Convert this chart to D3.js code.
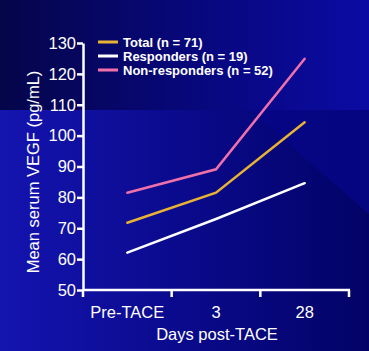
<!DOCTYPE html>
<html>
<head>
<meta charset="utf-8">
<script src="https://cdn.jsdelivr.net/npm/d3@7"></script>
<style>
  body { margin: 0; padding: 0; overflow: hidden; }
  svg { display: block; font-family: "Liberation Sans", Arial, sans-serif; }
</style>
</head>
<body>
<div id="chart"></div>
<script>
var w = 369,
    h = 351;

// data
var categories = ["Pre-TACE", "3", "28"];
var seriesNames = ["Total (n = 71)", "Responders (n = 19)", "Non-responders (n = 52)"];
var totalValues = [71.8, 81.5, 104.3];
var responderValues = [62.1, 73.0, 84.6];
var nonResponderValues = [81.5, 89.1, 124.9];
var yTicks = [50, 60, 70, 80, 90, 100, 110, 120, 130];
var colors = ["#e8b234", "#ffffff", "#f070aa"];

var svg = d3.select("#chart").append("svg")
    .attr("width", w)
    .attr("height", h);

// background (slide template)
var defs = svg.append("defs");
var gTop = defs.append("linearGradient").attr("id", "gTop")
    .attr("x1", 0).attr("x2", 1).attr("y1", 0).attr("y2", 0);
gTop.append("stop").attr("offset", "0%").attr("stop-color", "#05054a");
gTop.append("stop").attr("offset", "45%").attr("stop-color", "#070775");
gTop.append("stop").attr("offset", "100%").attr("stop-color", "#0b0ba4");
var gBot = defs.append("linearGradient").attr("id", "gBot")
    .attr("x1", 0).attr("x2", 1).attr("y1", 0).attr("y2", 0);
gBot.append("stop").attr("offset", "0%").attr("stop-color", "#1414b0");
gBot.append("stop").attr("offset", "50%").attr("stop-color", "#0a0a8c");
gBot.append("stop").attr("offset", "100%").attr("stop-color", "#020266");

svg.append("rect").attr("width", w).attr("height", h).attr("fill", "url(#gBot)");
svg.append("rect").attr("width", w).attr("height", 110).attr("fill", "url(#gTop)");
svg.append("polygon")
    .attr("points", "250,110 369,110 369,214")
    .attr("fill", "#07078a")
    .attr("fill-opacity", 0.75);

// scales
var x = d3.scaleBand()
    .domain(categories)
    .range([83, 349]);

var y = d3.scaleLinear()
    .domain([50, 130])
    .range([290, 43]);

// y axis
var yAxis = d3.axisLeft(y)
    .tickValues(yTicks)
    .tickSize(6)
    .tickPadding(1)
    .tickSizeOuter(0);

var gy = svg.append("g")
    .attr("transform", "translate(83,0)")
    .call(yAxis);
gy.select(".domain").attr("stroke", "#fff").attr("stroke-width", 2.5);
gy.selectAll(".tick line").attr("stroke", "#fff").attr("stroke-width", 2.5);
gy.selectAll(".tick text")
    .attr("fill", "#fff")
    .style("font-size", "16.5px")
    .style("font-family", "Liberation Sans, Arial, sans-serif");

// x axis with ticks at band boundaries
svg.append("line")
    .attr("x1", 83).attr("x2", 350)
    .attr("y1", y(50)).attr("y2", y(50))
    .attr("stroke", "#fff").attr("stroke-width", 2.5);
var bounds = categories.map(function(c) { return x(c); }).concat([x.range()[1]]);
svg.selectAll(".xTick")
    .data(bounds)
    .enter().append("line")
    .attr("class", "xTick")
    .attr("x1", function(d) { return d; })
    .attr("x2", function(d) { return d; })
    .attr("y1", y(50))
    .attr("y2", y(50) + 7)
    .attr("stroke", "#fff").attr("stroke-width", 2.5);
svg.selectAll(".xLabel")
    .data(categories)
    .enter().append("text")
    .attr("class", "xLabel")
    .attr("x", function(d) { return x(d) + x.bandwidth() / 2; })
    .attr("y", 318)
    .attr("fill", "#fff")
    .style("text-anchor", "middle")
    .style("font-size", "16.5px")
    .text(function(d) { return d; });

svg.append("text")
    .attr("x", 217)
    .attr("y", 340)
    .attr("fill", "#fff")
    .style("text-anchor", "middle")
    .style("font-size", "16.5px")
    .text("Days post-TACE");

svg.append("text")
    .attr("transform", "translate(39,172) rotate(-90)")
    .attr("fill", "#fff")
    .style("text-anchor", "middle")
    .style("font-size", "16.5px")
    .text("Mean serum VEGF (pg/mL)");

// lines
var line = d3.line()
    .x(function(d, i) { return x(categories[i]) + x.bandwidth() / 2; })
    .y(function(d) { return y(d); });

var allSeries = [totalValues, responderValues, nonResponderValues];
svg.selectAll(".seriesLine")
    .data(allSeries)
    .enter().append("path")
    .attr("class", "seriesLine")
    .attr("d", line)
    .attr("fill", "none")
    .attr("stroke", function(d, i) { return colors[i]; })
    .attr("stroke-width", 2.5)
    .attr("stroke-linecap", "round");

// legend
var legend = svg.selectAll(".legend")
    .data(seriesNames)
    .enter().append("g")
    .attr("class", "legend")
    .attr("transform", function(d, i) { return "translate(98," + (42 + i * 14) + ")"; });
legend.append("line")
    .attr("x1", 0).attr("x2", 20)
    .attr("stroke", function(d, i) { return colors[i]; })
    .attr("stroke-width", 3);
legend.append("text")
    .attr("x", 25)
    .attr("y", 4.5)
    .attr("fill", "#fff")
    .style("font-size", "13px")
    .style("font-weight", "bold")
    .text(function(d) { return d; });
</script>
</body>
</html>
